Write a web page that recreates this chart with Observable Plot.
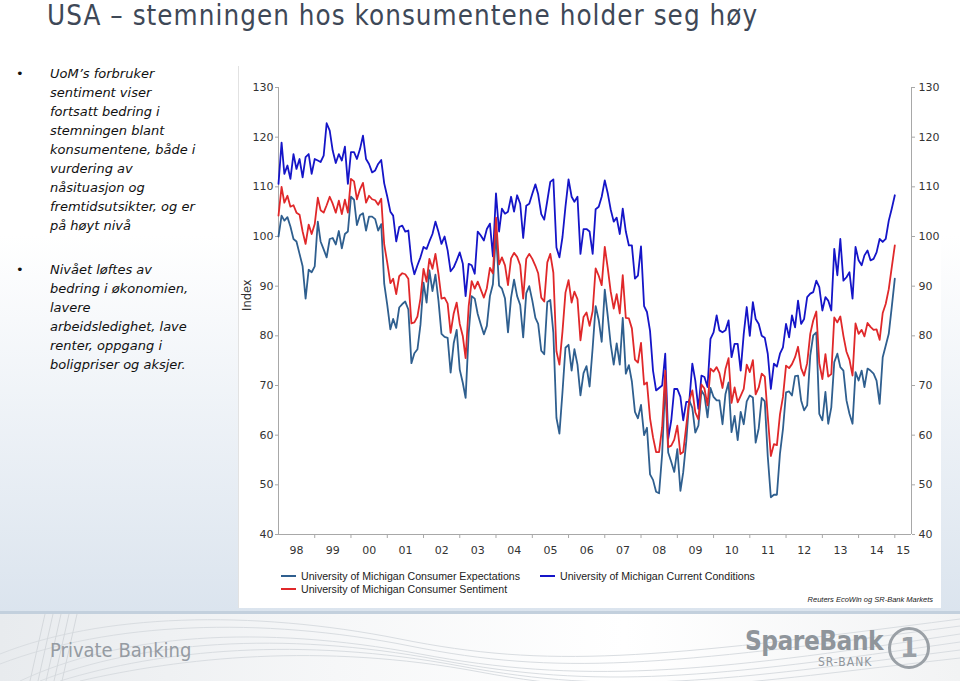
<!DOCTYPE html>
<html>
<head>
<meta charset="utf-8">
<script src="https://cdn.jsdelivr.net/npm/d3@7"></script>
<script src="https://cdn.jsdelivr.net/npm/@observablehq/plot@0.6"></script>
<style>
html,body{margin:0;padding:0}
body{width:960px;height:681px;position:relative;overflow:hidden;
  background:linear-gradient(to bottom,#ffffff 0px,#ffffff 235px,#dbe4ee 612px);
  font-family:"DejaVu Sans",Verdana,sans-serif;}
#title{position:absolute;left:47px;top:0px;font-family:"DejaVu Sans Condensed","DejaVu Sans",sans-serif;
  font-size:27.5px;line-height:30px;color:#3e4857;white-space:nowrap;letter-spacing:1.05px;}
.bul{position:absolute;left:0;width:226px;font-style:italic;font-size:13px;line-height:19px;color:#111;}
.bul .dot{position:absolute;left:16px;top:0;font-style:normal;}
.bul .txt{position:absolute;left:50px;top:0;white-space:nowrap;}
#panel{position:absolute;left:238px;top:66px;width:702px;height:542px;background:#fff;border-left:1px solid #e2e2e2;}
#chart{position:absolute;left:240px;top:68px;}
.leg{position:absolute;font-family:"Liberation Sans",Arial,sans-serif;font-size:10.6px;color:#222;white-space:nowrap;line-height:13px;}
.leg i{display:inline-block;width:15px;height:0;border-top:2px solid;vertical-align:middle;margin-right:5px;position:relative;top:-1px;}
#src{position:absolute;right:27px;top:595px;font-family:"Liberation Sans",Arial,sans-serif;font-size:7.5px;font-style:italic;color:#222;}
#footer{position:absolute;left:0;top:611px;width:960px;height:70px;
  background:linear-gradient(to right,#e8ebee 0%,#f6f7f8 35%,#ffffff 65%,#f2f3f4 100%);border-top:3px solid #c3d0dd;box-sizing:border-box;}
#pb{position:absolute;left:50px;top:24px;font-family:"DejaVu Sans Condensed","DejaVu Sans",sans-serif;font-size:20px;color:#959ba2;}
#sb{position:absolute;left:745px;top:12px;font-family:"DejaVu Sans Condensed","DejaVu Sans",sans-serif;font-weight:bold;font-size:26px;color:#8f959b;letter-spacing:-0.5px;}
#sr{position:absolute;left:818px;top:41px;font-family:"DejaVu Sans Condensed","DejaVu Sans",sans-serif;font-size:12px;color:#8f959b;letter-spacing:1px;}
#logo{position:absolute;left:888px;top:13px;width:36px;height:36px;border:3px solid #9aa0a6;border-radius:50%;
  font-family:"DejaVu Sans",sans-serif;font-weight:bold;font-size:26px;color:#9aa0a6;text-align:center;line-height:36px;}
#waves{position:absolute;left:0;top:0;}
</style>
</head>
<body>
<div id="title">USA – stemningen hos konsumentene holder seg høy</div>

<div class="bul" style="top:64px;height:180px;">
  <span class="dot">•</span>
  <span class="txt">UoM’s forbruker<br>sentiment viser<br>fortsatt bedring i<br>stemningen blant<br>konsumentene, både i<br>vurdering av<br>nåsituasjon og<br>fremtidsutsikter, og er<br>på høyt nivå</span>
</div>
<div class="bul" style="top:260px;height:120px;">
  <span class="dot">•</span>
  <span class="txt">Nivået løftes av<br>bedring i økonomien,<br>lavere<br>arbeidsledighet, lave<br>renter, oppgang i<br>boligpriser og aksjer.</span>
</div>

<div id="panel"></div>
<div id="chart"></div>

<div class="leg" style="left:281px;top:570px;"><i style="border-color:#2f5f8f"></i>University of Michigan Consumer Expectations</div>
<div class="leg" style="left:281px;top:583px;"><i style="border-color:#e0282a"></i>University of Michigan Consumer Sentiment</div>
<div class="leg" style="left:540px;top:570px;"><i style="border-color:#1515c8"></i>University of Michigan Current Conditions</div>
<div id="src">Reuters EcoWin og SR-Bank Markets</div>

<div id="footer">
  <svg id="waves" width="960" height="67">
    <g fill="none" stroke="#d9dde1" stroke-width="1">
      <path d="M20,67 C120,20 260,10 420,40 S700,60 960,20"/>
      <path d="M40,67 C140,28 280,16 440,46 S710,64 960,28"/>
      <path d="M60,67 C160,36 300,22 460,52 S720,67 960,36"/>
      <path d="M80,67 C180,44 320,28 480,58 S730,70 960,44"/>
      <path d="M0,40 C100,0 250,-5 400,25 S650,45 960,5"/>
      <path d="M0,50 C110,8 260,2 410,32 S660,52 960,12"/>
    </g>
    <g stroke="#d4d8dc" stroke-width="1">
      <line x1="30" y1="67" x2="45" y2="0"/><line x1="38" y1="67" x2="53" y2="0"/>
      <line x1="46" y1="67" x2="61" y2="0"/><line x1="54" y1="67" x2="69" y2="0"/>
      <line x1="62" y1="67" x2="77" y2="0"/>
    </g>
  </svg>
  <div id="pb">Private Banking</div>
  <div id="sb">SpareBank</div>
  <div id="sr">SR-BANK</div>
  <div id="logo">1</div>
</div>

<script>
// Monthly data, January 1998 – January 2015 (index points)
const startYear = 1998;

const sentiment = [
104.2,110.0,106.8,108.2,106.0,106.3,104.8,104.4,101.0,98.5,102.4,100.5,
102.5,107.8,105.3,104.8,106.3,108.0,106.6,104.8,107.2,104.5,107.4,104.8,
111.6,111.1,107.5,109.5,110.8,106.8,108.2,107.5,107.3,106.4,107.6,98.4,
94.7,90.6,91.5,88.4,92.0,92.6,92.4,91.5,82.5,82.7,83.9,87.5,
93.5,90.9,95.5,93.5,96.5,92.4,87.5,87.7,86.5,80.6,84.5,86.7,
82.4,79.9,75.5,86.0,91.0,89.5,90.9,89.3,87.7,89.6,93.7,92.6,
103.8,94.4,95.8,94.2,90.2,95.6,96.7,95.9,94.2,87.5,95.5,96.5,
95.5,94.1,92.6,87.7,86.9,94.8,96.5,92.7,76.9,74.2,80.9,88.7,
91.2,86.7,88.9,87.4,79.1,83.8,84.7,82.0,85.0,93.6,92.1,90.2,
97.9,93.5,89.0,85.5,88.4,84.5,92.2,83.6,83.5,81.5,75.2,74.6,
78.6,70.2,70.6,63.4,59.6,56.6,56.6,61.6,73.0,57.6,57.9,59.1,
61.9,56.2,56.6,61.9,67.0,69.0,64.6,63.2,70.2,69.4,66.0,73.4,
72.8,73.7,72.5,69.5,73.3,75.5,66.5,69.6,66.6,67.9,69.3,74.2,
72.7,75.1,68.2,69.6,72.4,71.8,63.8,55.8,58.2,58.0,64.2,67.7,
74.0,73.5,74.3,75.7,77.8,73.5,72.0,74.5,80.4,83.1,84.9,74.5,
71.3,76.3,71.8,72.3,83.7,82.7,83.9,80.0,76.8,75.2,72.0,82.5,
80.4,81.2,79.9,82.6,81.8,81.2,81.3,79.2,84.6,86.4,89.4,93.8,
98.2];

const currentConditions = [
110.6,118.9,112.6,114.3,111.6,116.6,113.6,115.6,111.9,116.0,116.6,112.6,
115.6,115.3,115.0,116.3,122.8,121.3,117.3,114.8,116.6,115.3,118.1,110.6,
117.0,117.0,115.6,117.6,120.3,115.6,114.6,112.9,113.3,114.6,115.4,110.7,
108.0,105.0,104.2,99.0,101.9,102.2,101.0,101.2,95.0,92.4,94.2,95.8,
97.9,97.5,99.0,100.5,103.0,100.9,98.5,100.0,97.2,93.0,93.8,95.2,
96.8,94.5,88.0,94.5,94.2,92.5,101.0,100.2,99.2,101.5,102.6,96.0,
108.7,101.0,105.6,104.6,105.0,108.0,105.0,108.3,106.6,99.7,106.2,106.6,
108.6,110.5,108.5,104.5,103.4,107.2,111.0,111.5,97.8,95.8,99.9,106.0,
111.5,108.0,107.0,108.0,96.5,101.5,101.5,101.0,96.5,105.5,106.0,108.0,
111.3,108.6,105.5,103.0,103.8,100.5,105.6,101.0,98.2,98.2,91.5,92.1,
98.0,86.0,84.8,81.0,73.0,69.0,69.5,70.0,76.4,59.3,63.0,69.3,
69.3,67.7,63.0,66.7,66.7,74.4,71.0,65.3,72.0,71.7,69.7,79.4,
80.7,84.1,81.1,80.7,81.1,83.1,75.7,78.4,78.4,73.0,80.4,85.8,
80.0,86.8,83.4,82.4,80.0,79.6,76.4,69.3,74.4,73.8,76.4,77.7,
82.4,79.7,84.1,81.7,87.1,82.4,83.4,87.8,88.5,88.8,91.1,89.8,
85.1,87.8,87.1,85.1,97.5,92.2,99.5,91.1,91.8,92.8,87.5,97.9,
95.2,94.2,96.2,97.2,95.2,95.5,96.8,99.5,98.9,99.5,103.2,105.6,
108.3];

const expectations = [
100.0,104.2,103.2,103.9,102.0,99.5,99.0,96.5,94.0,87.5,93.3,92.8,
94.0,103.0,99.0,97.4,95.8,99.5,99.7,98.4,101.1,97.6,100.5,101.0,
108.0,107.4,102.3,104.3,104.7,101.2,104.0,104.0,103.5,101.2,102.5,90.5,
86.2,81.3,83.4,81.6,85.7,86.4,86.9,85.3,74.5,76.5,77.3,82.2,
90.7,86.7,93.2,89.0,92.3,87.0,80.4,79.8,79.6,72.6,78.5,81.2,
73.2,70.5,67.5,80.6,88.0,87.5,84.4,82.3,80.3,82.0,88.0,90.4,
100.7,90.1,89.5,87.5,80.7,87.7,91.3,88.0,86.2,79.7,88.6,90.0,
87.1,83.6,82.4,77.0,76.3,86.8,87.2,80.6,63.5,60.3,68.7,77.6,
78.2,73.0,77.3,74.2,68.0,72.5,73.9,69.8,77.6,86.0,83.2,78.8,
89.3,83.8,78.4,74.2,78.5,74.2,83.6,72.4,74.1,70.8,64.7,63.4,
66.1,60.0,61.5,52.1,51.0,48.6,48.3,56.2,70.8,56.5,54.6,52.6,
57.2,48.8,52.5,58.8,67.0,65.5,60.5,61.9,69.0,68.0,63.6,69.5,
67.7,67.0,67.0,62.2,68.3,70.6,60.6,63.9,59.0,64.7,62.2,66.8,
68.0,67.6,58.5,61.4,67.5,66.8,55.7,47.5,48.0,48.0,56.3,61.2,
68.6,68.8,68.0,71.9,72.0,67.0,65.0,66.0,76.0,80.1,80.7,64.3,
63.0,68.7,62.3,65.6,74.7,76.4,73.7,73.0,67.0,64.3,62.3,72.7,
71.0,73.0,69.7,73.4,73.0,72.4,71.0,66.3,75.7,78.0,80.4,85.8,
91.5];

const yearLabels = ["98","99","00","01","02","03","04","05","06","07","08","09","10","11","12","13","14","15"];
const yTicks = [40,50,60,70,80,90,100,110,120,130];

const colors = {exp:"#2f5f8f", sent:"#e0282a", cur:"#1515c8"};

const dates = sentiment.map((_, i) => new Date(Date.UTC(startYear, i, 1)));
const toRows = arr => arr.map((v, i) => ({date: dates[i], value: v}));

const xStart = new Date(Date.UTC(1998, 0, 1));
const xEnd = new Date(Date.UTC(2015, 5, 18));
const yearStarts = d3.range(1999, 2016).map(y => new Date(Date.UTC(y, 0, 1)));
const labelDates = yearLabels.map((l, i) => {
  const a = Date.UTC(startYear + i, 0, 1);
  const b = Math.min(Date.UTC(startYear + i + 1, 0, 1), +xEnd);
  return new Date((a + b) / 2);
});
const labelMap = new Map(labelDates.map((d, i) => [+d, yearLabels[i]]));

const chart = Plot.plot({
  width: 700,
  height: 500,
  marginLeft: 38,
  marginRight: 29,
  marginTop: 19,
  marginBottom: 34,
  style: {fontFamily: "DejaVu Sans, Verdana, sans-serif", fontSize: "11px", color: "#333", background: "transparent"},
  x: {type: "utc", domain: [xStart, xEnd]},
  y: {domain: [40, 130]},
  marks: [
    Plot.ruleX([xStart, xEnd], {stroke: "#a8a8a8"}),
    Plot.ruleY([40], {stroke: "#a8a8a8"}),
    Plot.axisY({anchor: "left", ticks: yTicks, tickSize: 3, tickPadding: 2, label: null, stroke: "#a8a8a8", fill: "#333"}),
    Plot.axisY({anchor: "right", ticks: yTicks, tickSize: 3, tickPadding: 4, label: null, stroke: "#a8a8a8", fill: "#333"}),
    Plot.axisX({ticks: yearStarts, tickSize: 4, tickFormat: () => "", label: null, stroke: "#a8a8a8"}),
    Plot.axisX({ticks: labelDates, tickSize: 0, tickPadding: 12, tickFormat: d => labelMap.get(+d), label: null, fill: "#333"}),
    Plot.text(["Index"], {frameAnchor: "left", rotate: -90, dx: -31, fontSize: 11.5, fill: "#333"}),
    Plot.lineY(toRows(expectations), {x: "date", y: "value", stroke: colors.exp, strokeWidth: 1.8}),
    Plot.lineY(toRows(currentConditions), {x: "date", y: "value", stroke: colors.cur, strokeWidth: 1.8}),
    Plot.lineY(toRows(sentiment), {x: "date", y: "value", stroke: colors.sent, strokeWidth: 1.8})
  ]
});
document.getElementById("chart").appendChild(chart);
</script>
</body>
</html>
